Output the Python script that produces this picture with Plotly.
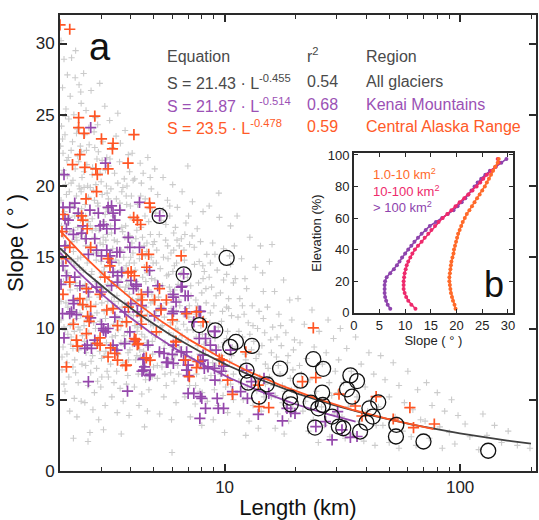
import numpy as np
import plotly.graph_objects as go

# ---------------- data: main panel (a) ----------------
gray_pts = [
    # L 2.0-2.5
    (2.02,30.2),(2.08,28.9),(2.15,27.8),(2.33,29.5),(2.05,26.9),(2.21,26.3),(2.41,27.1),(2.12,25.4),(2.29,25.0),(2.46,25.8),
    (2.03,24.2),(2.10,23.6),(2.18,24.7),(2.26,23.1),(2.37,24.0),(2.44,22.8),(2.06,22.3),(2.14,21.8),(2.23,22.5),(2.32,21.2),
    (2.40,21.7),(2.48,20.6),(2.04,20.9),(2.11,20.1),(2.19,19.6),(2.27,20.4),(2.35,19.3),(2.43,19.8),(2.02,19.0),(2.09,18.2),
    (2.16,17.4),(2.25,18.7),(2.31,17.9),(2.38,17.1),(2.47,18.4),(2.07,16.5),(2.13,15.9),(2.20,16.8),(2.28,15.4),(2.36,16.2),
    (2.45,15.0),(2.03,14.6),(2.10,14.1),(2.17,13.6),(2.24,14.8),(2.33,13.2),(2.42,14.3),(2.49,12.9),(2.05,12.4),(2.12,11.8),
    (2.21,12.7),(2.29,11.3),(2.37,12.0),(2.45,10.9),(2.02,10.6),(2.08,10.1),(2.16,9.6),(2.26,10.4),(2.34,9.2),(2.43,9.9),
    (2.06,8.7),(2.14,8.2),(2.22,8.9),(2.31,7.8),(2.40,8.5),(2.48,7.5),(2.04,7.1),(2.18,6.6),(2.27,7.3),(2.39,6.2),
    (2.10,5.6),(2.30,5.1),(2.46,4.9),(2.20,4.2),(2.36,3.8),(2.28,2.3),(2.63,2.07),(2.24,29.0),(2.45,26.6),(2.07,13.3),
    (2.19,11.0),(2.35,10.7),(2.28,16.9),(2.44,17.6),(2.15,20.7),(2.38,22.1),(2.01,15.3),(2.23,9.4),(2.47,11.6),(2.32,27.6),
    (2.01,22.8),(2.07,21.1),(2.13,19.4),(2.19,17.8),(2.25,16.1),(2.31,14.4),(2.37,12.8),(2.43,11.1),(2.49,9.5),(2.04,8.0),
    (2.10,9.9),(2.16,11.5),(2.22,13.1),(2.28,14.7),(2.34,16.4),(2.40,18.0),(2.46,19.6),(2.03,17.2),(2.09,15.6),(2.15,13.9),
    (2.21,10.2),(2.27,8.6),(2.33,6.9),(2.39,10.1),(2.45,13.7),(2.05,23.3),(2.11,24.9),(2.17,22.0),(2.23,20.2),(2.29,18.5),
    (2.35,23.7),(2.41,20.0),(2.47,22.4),(2.02,11.9),(2.14,7.6),(2.26,12.0),(2.38,14.9),(2.44,16.6),(2.08,6.1),(2.30,9.8),
    # L 2.5-3.2
    (2.52,27.9),(2.71,26.7),(2.95,27.2),(2.58,25.3),(2.83,24.8),(3.10,25.6),(2.55,23.6),(2.66,22.9),(2.79,23.8),(2.91,22.4),
    (3.04,23.1),(3.16,22.0),(2.60,21.5),(2.74,20.8),(2.87,21.9),(2.99,20.3),(3.12,21.1),(2.53,19.9),(2.64,19.2),(2.77,19.7),
    (2.89,18.8),(3.02,19.4),(3.14,18.4),(2.57,17.9),(2.69,17.2),(2.81,18.1),(2.93,16.9),(3.07,17.5),(3.18,16.6),(2.54,16.3),
    (2.67,15.7),(2.80,16.4),(2.92,15.3),(3.05,15.9),(3.17,14.9),(2.61,14.6),(2.73,14.0),(2.85,14.8),(2.97,13.6),(3.09,14.3),
    (2.56,13.1),(2.68,12.6),(2.82,13.3),(2.94,12.2),(3.06,12.8),(3.19,11.9),(2.59,11.5),(2.72,10.9),(2.84,11.7),(2.96,10.5),
    (3.08,11.2),(2.53,10.2),(2.65,9.7),(2.78,10.4),(2.90,9.3),(3.03,9.9),(3.15,9.0),(2.62,8.7),(2.75,8.1),(2.88,8.8),
    (3.00,7.9),(3.13,8.4),(2.57,7.4),(2.70,6.9),(2.86,7.2),(3.01,6.6),(3.17,7.0),(2.63,6.0),(2.80,5.5),(2.98,5.9),
    (2.55,4.8),(2.76,4.3),(3.11,4.6),(2.92,3.6),(2.68,2.7),(3.06,2.9),(2.84,20.1),(2.60,12.0),(3.01,13.9),(2.74,17.7),
    (2.89,24.3),(3.15,20.0),(2.58,8.3),(2.96,16.0),(3.12,10.7),
    (2.51,14.1),(2.57,15.8),(2.63,17.5),(2.69,19.9),(2.75,21.3),(2.81,22.7),(2.87,11.1),(2.93,12.9),(2.99,14.7),(3.05,16.4),
    (3.11,18.0),(3.17,19.5),(2.54,9.1),(2.60,10.6),(2.66,12.2),(2.72,13.8),(2.78,15.3),(2.84,17.0),(2.90,18.6),(2.96,20.9),
    (3.02,21.8),(3.08,8.1),(3.14,9.8),(3.19,13.1),(2.53,21.0),(2.59,22.5),(2.65,24.1),(2.71,7.7),(2.77,9.0),(2.83,10.0),
    (2.89,6.3),(2.95,8.4),(3.01,11.8),(3.07,14.0),(3.13,16.2),(2.56,18.7),(2.62,20.0),(2.68,11.0),(2.74,16.9),(2.80,19.0),
    # L 3.2-4.0
    (3.25,24.6),(3.52,25.1),(3.78,23.9),(3.33,22.7),(3.61,23.0),(3.90,22.2),(3.22,21.4),(3.41,20.9),(3.58,21.7),(3.75,20.5),
    (3.95,21.0),(3.29,19.8),(3.47,19.1),(3.66,19.6),(3.84,18.7),(3.24,18.2),(3.43,17.6),(3.62,18.3),(3.80,17.2),(3.97,17.8),
    (3.31,16.7),(3.50,16.1),(3.69,16.8),(3.87,15.7),(3.27,15.3),(3.45,14.8),(3.64,15.5),(3.82,14.4),(3.99,15.0),(3.36,13.9),
    (3.55,13.4),(3.73,14.1),(3.92,13.0),(3.23,12.7),(3.40,12.2),(3.59,12.9),(3.77,11.8),(3.94,12.4),(3.30,11.3),(3.49,10.8),
    (3.67,11.5),(3.86,10.4),(3.26,10.0),(3.44,9.5),(3.63,10.2),(3.81,9.1),(3.98,9.7),(3.35,8.7),(3.54,8.2),(3.72,8.9),
    (3.91,7.8),(3.28,7.5),(3.48,7.0),(3.68,7.4),(3.88,6.7),(3.39,6.2),(3.60,5.8),(3.83,6.1),(3.32,5.2),(3.71,4.9),
    (3.50,4.1),(3.93,3.9),(3.64,2.6),(3.46,23.5),(3.70,19.9),(3.89,16.3),(3.37,17.9),(3.56,14.6),(3.76,12.6),(3.85,20.0),
    (3.53,9.9),(3.96,8.5),(3.21,6.6),(3.66,13.7),(3.42,11.6),
    (3.21,19.1),(3.28,17.2),(3.35,15.6),(3.42,14.0),(3.49,12.3),(3.56,10.7),(3.63,9.0),(3.70,7.6),(3.77,16.4),(3.84,13.3),
    (3.91,11.0),(3.98,18.6),(3.24,13.6),(3.31,11.9),(3.38,10.3),(3.45,8.6),(3.52,20.2),(3.59,18.8),(3.66,17.1),(3.73,15.0),
    (3.80,12.9),(3.87,9.8),(3.94,14.6),(3.26,21.9),(3.33,9.4),(3.40,16.2),(3.47,13.0),(3.54,11.9),(3.61,14.1),(3.68,10.5),
    (3.75,9.5),(3.82,19.3),(3.89,8.3),(3.96,16.5),
    # L 4-5
    (4.05,22.3),(4.38,21.6),(4.72,22.0),(4.15,20.5),(4.51,20.9),(4.88,19.8),(4.02,19.3),(4.27,18.7),(4.60,19.1),(4.93,18.2),
    (4.11,17.7),(4.42,17.1),(4.76,17.5),(4.20,16.3),(4.55,15.8),(4.84,16.6),(4.08,15.3),(4.35,14.9),(4.67,15.4),(4.97,14.6),
    (4.17,14.1),(4.49,13.6),(4.81,14.0),(4.03,13.1),(4.31,12.7),(4.63,13.3),(4.91,12.4),(4.22,11.9),(4.54,11.4),(4.86,11.8),
    (4.10,10.9),(4.40,10.5),(4.70,11.0),(4.98,10.2),(4.25,9.8),(4.58,9.4),(4.89,9.7),(4.06,8.9),(4.36,8.5),(4.66,9.0),
    (4.95,8.2),(4.19,7.8),(4.52,7.4),(4.80,7.7),(4.30,6.8),(4.62,6.4),(4.92,6.6),(4.14,5.9),(4.45,5.4),(4.77,5.7),
    (4.33,4.6),(4.70,4.2),(4.57,3.1),(4.24,16.9),(4.83,20.6),(4.46,12.2),(4.68,16.0),(4.01,11.6),(4.90,13.5),(4.39,8.0),
    (4.12,23.6),(4.75,10.6),(4.28,10.1),(4.59,17.9),(4.96,15.9),
    (4.04,16.0),(4.13,14.6),(4.21,13.3),(4.29,12.1),(4.37,10.9),(4.45,9.6),(4.53,8.4),(4.61,15.1),(4.69,13.9),(4.77,12.7),
    (4.85,10.3),(4.93,9.1),(4.07,12.0),(4.16,10.2),(4.24,8.1),(4.32,17.6),(4.40,19.3),(4.48,16.4),(4.56,14.3),(4.64,11.5),
    (4.72,8.7),(4.80,18.4),(4.88,15.0),(4.96,11.9),(4.09,20.4),(4.43,20.2),(4.66,6.9),(4.99,7.3),
    # L 5-6.5
    (5.05,21.2),(5.48,20.6),(6.02,20.1),(5.20,19.4),(5.72,19.0),(6.30,18.5),(5.10,18.1),(5.38,17.6),(5.85,17.9),(6.18,17.1),
    (5.28,16.6),(5.62,16.2),(6.08,16.7),(6.42,15.8),(5.15,15.5),(5.50,15.0),(5.92,15.3),(6.25,14.6),(5.33,14.2),(5.78,13.8),
    (6.12,14.4),(5.06,13.4),(5.45,13.0),(5.88,12.6),(6.35,13.1),(5.24,12.2),(5.66,11.8),(6.05,12.3),(6.45,11.6),(5.12,11.2),
    (5.55,10.8),(5.98,11.1),(6.28,10.5),(5.35,10.1),(5.80,9.7),(6.20,10.0),(5.08,9.4),(5.58,9.0),(6.00,8.7),(6.38,9.2),
    (5.25,8.3),(5.70,7.9),(6.15,8.1),(5.42,7.3),(5.90,6.9),(6.32,7.4),(5.18,6.5),(5.65,6.0),(6.10,6.3),(5.52,5.2),
    (6.22,4.8),(5.30,4.0),(5.95,3.6),(5.98,1.3),(5.75,14.9),(6.40,12.0),(5.40,11.5),(5.85,18.6),(6.05,9.5),(5.22,10.6),
    (5.03,16.1),(5.13,14.6),(5.23,13.1),(5.33,11.6),(5.43,10.2),(5.53,8.6),(5.63,17.3),(5.73,15.8),(5.83,12.9),(5.93,11.4),
    (6.03,14.0),(6.13,12.7),(6.23,11.2),(6.33,9.9),(6.43,8.7),(5.08,12.0),(5.28,9.7),(5.48,18.3),(5.68,13.7),(5.88,10.4),
    (6.08,15.5),(6.28,16.2),(6.48,13.8),(5.18,7.4),(5.58,6.8),(5.98,7.8),(6.38,6.8),
    # L 6.5-8.5
    (6.60,19.6),(7.30,18.9),(8.10,18.2),(6.85,17.4),(7.65,17.0),(6.55,16.3),(7.10,15.9),(7.90,16.1),(8.40,15.2),(6.75,14.8),
    (7.45,14.5),(8.20,14.0),(6.95,13.6),(7.75,13.2),(6.62,12.7),(7.20,12.3),(8.00,12.5),(8.35,11.8),(6.88,11.4),(7.55,11.0),
    (8.15,10.7),(6.70,10.3),(7.35,9.9),(8.05,9.6),(7.00,9.2),(7.70,8.8),(8.30,8.5),(6.65,8.3),(7.25,7.9),(7.95,7.6),
    (6.90,7.1),(7.60,6.8),(8.25,6.5),(7.10,6.0),(7.85,5.6),(6.78,5.2),(7.50,4.7),(8.45,4.9),(7.15,3.8),(8.00,3.2),
    (6.72,15.5),(7.80,14.7),(7.05,10.8),(8.40,9.0),(7.55,12.0),(6.98,21.4),(8.10,13.5),(7.28,16.5),(6.60,9.5),
    (6.58,13.9),(6.83,12.3),(7.08,11.6),(7.33,10.6),(7.58,9.4),(7.83,8.2),(8.08,14.4),(8.33,12.8),(6.68,11.0),(6.93,9.9),
    (7.18,13.0),(7.43,15.7),(7.68,11.6),(7.93,10.2),(8.18,8.9),(8.43,7.2),(6.78,16.6),(7.03,17.9),(7.53,6.0),(8.03,5.5),
    # L 8.5-11
    (8.60,18.6),(9.50,17.8),(10.6,17.2),(8.90,16.0),(9.90,15.6),(8.70,14.6),(9.30,14.1),(10.2,13.8),(10.9,13.2),(8.80,12.9),
    (9.60,12.5),(10.4,12.1),(9.00,11.6),(9.80,11.2),(10.7,10.9),(8.65,10.4),(9.40,10.1),(10.3,9.8),(9.10,9.3),(9.95,9.0),
    (10.8,8.7),(8.85,8.4),(9.70,8.1),(10.5,7.7),(9.20,7.4),(10.1,7.0),(8.75,6.7),(9.55,6.3),(10.6,6.1),(9.05,5.7),
    (9.85,5.3),(10.9,5.0),(9.35,4.6),(10.3,4.1),(8.95,3.6),(10.0,2.7),(9.45,19.5),(10.5,15.1),(8.55,9.6),(10.2,11.5),
    (8.7,11.1),(9.2,12.3),(9.7,10.5),(10.2,9.3),(10.7,8.1),(8.9,7.6),(9.4,8.7),(9.9,13.4),(10.4,11.4),(10.9,6.8),
    (8.6,13.6),(9.1,15.2),(9.6,6.8),(10.1,5.9),(10.6,14.5),
    # L 11-15
    (11.3,17.9),(12.8,16.4),(14.2,15.8),(11.8,14.9),(13.5,14.3),(11.1,13.5),(12.4,12.8),(14.6,12.6),(11.6,12.1),(13.1,11.6),
    (14.0,11.2),(11.4,10.8),(12.6,10.4),(13.8,10.0),(14.8,9.7),(11.9,9.4),(13.3,9.1),(14.4,8.8),(11.2,8.6),(12.2,8.2),
    (13.6,7.9),(14.9,7.5),(11.7,7.3),(12.9,6.9),(14.1,6.6),(11.5,6.3),(12.5,5.9),(13.7,5.6),(14.7,5.2),(12.0,5.0),
    (13.2,4.6),(14.3,4.2),(11.6,4.0),(12.7,3.5),(13.9,3.0),(12.3,2.5),(14.5,13.9),(11.0,15.8),(13.0,8.5),(12.1,11.0),
    (11.5,9.8),(12.3,7.8),(13.2,10.2),(14.0,8.2),(14.9,6.1),(11.9,11.6),(12.8,9.6),(13.6,6.3),(14.6,10.7),(12.2,13.5),
    # L 15-20
    (15.5,14.7),(17.8,13.4),(16.3,12.6),(18.9,12.0),(15.2,11.5),(17.0,11.0),(19.3,10.6),(16.0,10.1),(18.2,9.7),(15.7,9.2),
    (17.4,8.8),(19.6,8.5),(16.6,8.0),(18.5,7.6),(15.3,7.2),(17.2,6.8),(19.0,6.5),(16.1,6.0),(18.0,5.6),(15.8,5.2),
    (17.6,4.8),(19.5,4.4),(16.8,4.0),(18.7,3.5),(16.4,3.0),(17.9,2.6),(15.9,15.9),(19.8,9.2),(16.9,7.4),(18.3,5.1),
    (15.8,8.3),(16.7,9.4),(17.6,6.0),(18.6,8.1),(19.5,7.1),(15.5,6.6),(16.4,5.3),(17.3,10.2),(18.2,4.6),(19.2,5.7),
    # L 20-30
    (20.5,12.1),(23.5,11.3),(27.5,10.6),(21.8,10.3),(25.2,9.8),(29.0,9.3),(20.9,9.0),(24.0,8.7),(27.0,8.3),(22.3,7.9),
    (26.0,7.5),(29.5,7.0),(21.2,6.8),(23.0,6.4),(27.8,6.2),(20.3,5.9),(24.5,5.6),(28.5,5.3),(22.0,4.9),(25.8,4.5),
    (21.5,4.2),(29.2,4.0),(23.8,3.6),(26.5,3.2),(22.7,2.8),(28.0,2.4),(25.0,2.0),(20.8,7.4),
    # L 30-45
    (31.0,10.0),(36.0,9.4),(33.0,8.6),(41.0,8.3),(30.5,7.8),(38.0,7.5),(34.5,7.0),(43.0,6.8),(32.0,6.2),(39.5,5.9),
    (30.2,5.5),(36.5,5.2),(42.0,5.0),(33.5,4.5),(40.5,4.2),(31.5,3.8),(37.5,3.5),(44.0,3.2),(35.0,2.6),(39.0,2.1),
    (32.5,2.3),(43.5,1.8),
    # L 45-70
    (46,8.1),(52,7.6),(60,7.0),(48,6.4),(55,6.0),(66,5.7),(50,5.2),(58,4.8),(45,4.5),(63,4.3),
    (53,3.8),(68,3.6),(47,3.2),(57,2.8),(62,2.4),(50,2.0),(65,1.8),(55,1.6),
    # L 70-120
    (72,6.2),(80,5.5),(92,5.0),(76,4.6),(86,4.2),(98,3.9),(71,3.5),(82,3.1),(105,3.3),(90,2.7),
    (74,2.3),(110,2.4),(95,1.9),(84,1.6),
    # L 120-210
    (125,4.0),(140,3.2),(130,2.5),(160,2.8),(150,2.0),(198,1.6),(175,1.8),(120,1.5),
]
gray_L = [p[0] for p in gray_pts]
gray_S = [p[1] for p in gray_pts]

central_pts = [
    (2.0,31.3),(2.2,31.0),(2.40,24.8),(2.81,24.9),(2.4,24.1),(2.53,23.7),(3.0,23.3),(3.36,23.0),(3.34,22.6),(2.43,22.2),
    (2.26,21.5),(2.55,21.3),(2.84,21.2),(2.88,20.8),(3.20,21.2),(2.86,19.6),(2.58,19.1),(4.12,23.6),(3.89,21.6),(4.8,18.8),
    (4.83,18.5),(4.11,17.8),(4.26,17.6),(4.4,17.3),(6.54,15.1),(4.76,15.2),(4.46,15.2),(3.89,13.9),(4.01,14.0),(4.14,13.7),
    (3.26,14.4),(4.67,14.3),(5.29,12.8),(4.43,12.4),(4.47,12.0),(5.04,12.0),(5.66,12.0),(2.70,11.55),(3.36,11.4),(4.43,10.9),
    (3.83,10.46),(2.28,10.3),(2.35,9.18),(2.37,8.76),(2.13,7.31),(2.59,9.64),(2.96,8.83),(3.28,8.64),(3.2,8.0),(3.42,8.25),
    (3.51,7.78),(3.83,7.43),(3.51,10.2),(4.2,9.22),(4.31,8.94),(4.83,7.78),(3.9,11.5),(4.43,10.3),(5.13,9.76),(6.22,9.06),
    (6.82,7.78),(7.08,6.62),(7.6,7.25),(10.3,6.38),(10.8,5.38),(6.9,11.04),(7.6,11.16),(8.1,10.46),(23.8,10.04),(12.3,8.36),
    (7.7,7.7),(9.75,7.78),(9.5,7.85),(13.9,6.03),(14.0,4.52),(15.4,4.45),(21.4,6.27),(24.4,6.55),(30.6,5.4),(35.9,4.56),
    (38.3,3.86),(44.0,5.22),(52.0,3.65),(61.2,4.45),(63.4,3.05),(77.7,3.3),(2.06,18.0),(2.04,16.8),(2.47,17.9),(2.5,17.6),
    (2.61,17.0),(2.7,15.7),(2.2,15.7),(3.2,14.9),(3.1,13.6),(2.59,12.8),(2.96,12.4),(2.12,14.9),(2.06,12.4),(2.2,13.26),
    (2.43,12.1),(2.5,11.67),(2.62,10.85),(2.66,10.5),(3.16,11.3),(2.96,9.34),(2.88,8.95),(3.8,7.39),(4.14,9.3),(4.26,8.87),
    (4.65,7.94),(5.37,11.3),(6.01,10.6),(6.2,9.1),
]
central_L = [p[0] for p in central_pts]
central_S = [p[1] for p in central_pts]

kenai_pts = [
    (2.7,24.1),(3.12,21.6),(2.08,20.8),(2.06,18.5),(2.2,18.5),(2.31,18.8),(2.39,18.1),(2.68,18.3),(2.91,18.1),(3.2,18.5),
    (3.36,18.1),(2.17,17.6),(2.28,16.6),(2.47,16.7),(2.58,16.3),(2.81,16.3),(2.96,17.2),(3.16,17.0),(3.42,17.6),(2.1,15.8),
    (2.64,15.2),(2.86,15.5),(3.0,15.1),(3.16,15.5),(3.31,14.65),(3.49,15.35),(2.06,14.4),(2.13,13.7),(2.31,13.6),(2.43,13.0),
    (2.64,12.56),(2.86,12.9),(3.0,12.56),(3.51,13.7),(2.02,13.1),(2.29,11.74),(2.24,11.16),(2.35,10.97),(2.08,9.34),(2.55,8.6),
    (2.61,8.83),(2.72,8.6),(3.06,10.0),(3.13,9.76),(3.2,10.0),(2.64,6.27),(3.87,5.61),(3.42,10.8),(3.77,8.94),(4.5,7.83),
    (4.52,7.08),(4.8,6.69),(5.53,8.25),(5.66,7.62),(6.0,8.18),(6.54,8.36),(6.54,12.9),(6.05,12.4),(6.0,11.04),(6.8,12.3),
    (7.0,5.45),(7.4,5.45),(3.51,13.26),(4.1,12.8),(4.22,13.1),(4.72,12.56),(4.0,11.74),(3.77,11.16),(4.26,11.16),(3.36,8.83),
    (3.49,8.48),(4.54,7.9),(4.57,7.31),(4.46,7.0),(4.83,6.78),(4.73,8.83),(5.29,8.36),(5.74,7.62),(6.06,7.55),(6.06,8.83),
    (6.9,8.36),(6.9,7.08),(7.0,6.69),(7.9,5.22),(8.3,4.4),(7.85,3.7),(9.3,5.1),(9.4,4.4),(9.9,4.4),(8.1,7.78),
    (8.5,7.31),(9.1,6.38),(9.9,7.36),(2.28,11.97),(3.0,10.3),(3.06,9.87),(2.7,10.74),(2.81,9.18),(2.05,11.04),(2.2,11.04),
    (3.96,9.76),(4.14,9.1),(6.22,11.86),(5.37,11.4),(7.8,9.3),(8.3,9.3),(8.7,8.83),(9.2,8.48),(9.06,9.8),(10.6,8.48),
    (12.4,7.08),(8.1,8.13),(8.0,5.1),(10.8,5.57),(12.5,5.1),(13.9,3.98),(11.7,5.57),(15.4,5.45),(17.6,3.52),(18.4,4.4),
    (19.1,4.17),(19.9,4.05),(24.4,3.12),(28.6,2.19),(34.2,2.36),(36.5,2.42),(26.8,3.47),(31.5,2.89),(30.2,4.17),(13.0,6.27),
    (14.7,6.5),(6.7,13.84),(6.6,12.95),(7.0,12.3),(7.9,11.2),(7.4,10.46),(9.1,9.8),(6.7,7.78),(7.0,7.43),(7.9,7.7),
    (9.06,7.2),(8.2,7.2),(9.7,7.0),(4.35,18.85),(3.59,18.3),(3.31,18.6),(2.1,17.7),(2.13,17.0),(2.5,17.2),(3.06,17.3),
    (3.42,17.0),(3.9,16.4),(3.96,15.7),(3.26,15.1),(3.59,15.35),(3.36,13.96),(3.66,13.96),(4.0,13.37),(3.31,13.0),(4.22,12.97),
    (5.2,13.0),(6.06,12.2),(6.06,11.2),(6.8,11.16),(7.8,11.2),(5.3,17.9),(4.35,15.7),(4.8,14.07),(4.43,11.6),(5.04,10.88),
]
kenai_L = [p[0] for p in kenai_pts]
kenai_S = [p[1] for p in kenai_pts]

circle_L = [5.3, 10.2, 6.7, 7.81, 9.13, 10.57, 11.17, 13.05, 12.4, 17.2, 23.8, 26.2, 34.2, 12.6, 15.1, 14.0,
            18.95, 19.1, 21.0, 23.2, 25.0, 25.96, 26.1, 24.2, 28.6, 30.55, 31.9, 36.5, 33.1, 34.8, 37.6, 40.0,
            41.2, 42.6, 44.9, 53.6, 53.4, 69.9, 131.6]
circle_S = [17.9, 14.95, 13.8, 10.24, 9.87, 8.71, 9.06, 8.78, 7.05, 7.18, 7.85, 7.17, 6.71, 6.2, 6.08, 5.22,
            5.15, 4.68, 6.34, 4.8, 4.4, 5.5, 4.63, 3.05, 3.82, 3.12, 3.0, 6.31, 5.73, 5.22, 2.77, 3.4,
            4.4, 3.82, 4.82, 3.24, 2.42, 2.07, 1.42]

# power-law fits  S = a * L^b  (from the printed equations)
fit_names = ["All glaciers", "Kenai Mountains", "Central Alaska Range"]
fit_a = [21.43, 21.87, 23.5]
fit_b = [-0.455, -0.514, -0.478]
fit_r2 = ["0.54", "0.68", "0.59"]
fit_Lmax = [200, 36, 77]

# ---------------- data: inset (b) ----------------
elev = [2.5, 5, 7.5, 10, 12.5, 15, 17.5, 20, 22.5, 25, 27.5, 30, 32.5, 35, 37.5, 40, 42.5, 45, 47.5, 50,
        52.5, 55, 57.5, 60, 62.5, 65, 67.5, 70, 72.5, 75, 77.5, 80, 82.5, 85, 87.5, 90, 92.5, 95, 97.5]
slope_small = [19.8, 19.6, 19.3, 19.1, 18.9, 18.8, 18.7, 18.6, 18.6, 18.7, 18.8, 18.9, 19.0, 19.2, 19.4, 19.5,
               19.7, 19.9, 20.1, 20.3, 20.6, 20.9, 21.2, 21.6, 22.0, 22.5, 23.0, 23.5, 24.0, 24.5, 25.0, 25.5,
               25.9, 26.3, 26.7, 27.1, 27.5, 28.0, 28.2]
slope_mid = [12.0, 11.2, 10.6, 10.2, 9.9, 9.7, 9.7, 9.7, 9.8, 9.9, 10.1, 10.3, 10.6, 11.0, 11.4, 11.9,
             12.5, 13.2, 13.8, 14.5, 15.1, 15.8, 16.5, 17.3, 18.2, 19.0, 19.8, 20.6, 21.5, 22.3, 23.1, 23.9,
             24.6, 25.2, 25.9, 26.8, 27.6, 28.2, 28.0]
slope_large = [7.1, 6.6, 6.3, 6.1, 6.0, 6.0, 6.0, 6.1, 6.4, 7.1, 7.8, 8.4, 8.9, 9.4, 10.0, 10.6,
               11.2, 11.8, 12.5, 13.2, 14.0, 14.8, 16.0, 17.2, 18.3, 19.4, 20.2, 21.0, 21.7, 22.3, 22.9, 23.5,
               24.1, 24.8, 25.6, 26.5, 27.6, 28.7, 29.7]
size_labels = ["1.0-10 km<sup>2</sup>", "10-100 km<sup>2</sup>", "> 100 km<sup>2</sup>"]

# ---------------- styling ----------------
FONT = "Arial, 'Liberation Sans', Helvetica, sans-serif"
C_GRAY_PT = "#cbcbcb"
C_ALL = "#404040"
C_KENAI = "#9447ab"
C_CENTRAL = "#ff5524"
C_TXT_GRAY = "#4a4a4a"
C_TXT_KENAI = "#9b51b5"
C_TXT_CENTRAL = "#ff5a28"
C_IN = ["#ff6a2a", "#ee2a6c", "#8e44ad"]

W, H = 539, 520
ML, MR, MT, MB = 60, 1, 15, 47
PW, PH = W - ML - MR, H - MT - MB


def px(x):
    return (x - ML) / PW


def py(y):
    return (H - MB - y) / PH


fig = go.Figure()

fig.add_trace(go.Scatter(x=gray_L, y=gray_S, mode="markers", xaxis="x", yaxis="y",
                         marker=dict(symbol="cross-thin", size=4.5, color=C_GRAY_PT,
                                     line=dict(width=1.1, color=C_GRAY_PT)),
                         showlegend=False, hoverinfo="skip"))
fig.add_trace(go.Scatter(x=kenai_L, y=kenai_S, mode="markers",
                         marker=dict(symbol="cross-thin", size=8, color=C_KENAI,
                                     line=dict(width=1.7, color=C_KENAI)),
                         showlegend=False))
fig.add_trace(go.Scatter(x=central_L, y=central_S, mode="markers",
                         marker=dict(symbol="cross-thin", size=8, color=C_CENTRAL,
                                     line=dict(width=1.7, color=C_CENTRAL)),
                         showlegend=False))

fit_colors = [C_ALL, C_KENAI, C_CENTRAL]
for a, b, lmax, c in zip(fit_a, fit_b, fit_Lmax, fit_colors):
    Lc = np.logspace(np.log10(2), np.log10(lmax), 120)
    fig.add_trace(go.Scatter(x=Lc, y=a * Lc ** b, mode="lines",
                             line=dict(color=c, width=1.8), showlegend=False, hoverinfo="skip"))

fig.add_trace(go.Scatter(x=circle_L, y=circle_S, mode="markers",
                         marker=dict(symbol="circle-open", size=15, color="#111",
                                     line=dict(width=1.3, color="#111")),
                         showlegend=False))

# inset traces
for ys, c in zip([slope_large, slope_mid, slope_small], [C_IN[2], C_IN[1], C_IN[0]]):
    fig.add_trace(go.Scatter(x=ys, y=elev, mode="lines+markers", xaxis="x2", yaxis="y2",
                             line=dict(color=c, width=1.6),
                             marker=dict(size=4, color=c), showlegend=False))

axis_common = dict(showline=True, linecolor="#2a2a2a", mirror="ticks", ticks="inside",
                   tickcolor="#2a2a2a", showgrid=False, zeroline=False)

fig.update_layout(
    width=W, height=H,
    margin=dict(l=ML, r=MR, t=MT, b=MB),
    paper_bgcolor="white", plot_bgcolor="white",
    font=dict(family=FONT, color="#222"),
    xaxis=dict(type="log", range=[np.log10(2), np.log10(210)], domain=[0, 1],
               tickmode="array", tickvals=[10, 100], ticktext=["10", "100"],
               ticklen=7, tickwidth=1.5, linewidth=2,
               tickfont=dict(size=17, color="#222"),
               minor=dict(tickmode="array",
                          tickvals=[2, 3, 4, 5, 6, 7, 8, 9, 20, 30, 40, 50, 60, 70, 80, 90, 200],
                          ticks="inside", ticklen=4, tickwidth=1.2, tickcolor="#2a2a2a", showgrid=False),
               title=dict(text="Length (km)", font=dict(size=22, color="#111"), standoff=6),
               **axis_common),
    yaxis=dict(range=[0, 32], domain=[0, 1], tickmode="array", tickvals=[0, 5, 10, 15, 20, 25, 30],
               ticklen=7, tickwidth=1.5, linewidth=2,
               tickfont=dict(size=17, color="#222"),
               title=dict(text="Slope ( ° )", font=dict(size=22, color="#111"), standoff=6),
               **axis_common),
    xaxis2=dict(anchor="y2", domain=[px(355), px(515)], range=[0, 31],
                tickmode="array", tickvals=[0, 5, 10, 15, 20, 25, 30],
                ticklen=4, tickwidth=1, linewidth=1.5,
                tickfont=dict(size=13, color="#222"),
                title=dict(text="Slope ( ° )", font=dict(size=13, color="#222"), standoff=2),
                **axis_common),
    yaxis2=dict(anchor="x2", domain=[py(314), py(154)], range=[0, 101],
                tickmode="array", tickvals=[0, 20, 40, 60, 80, 100],
                ticklen=4, tickwidth=1, linewidth=1.5,
                tickfont=dict(size=13, color="#222"),
                title=dict(text="Elevation (%)", font=dict(size=13, color="#222"), standoff=3),
                **axis_common),
)

# white background of the inset (drawn in the inset subplot, above the main traces)
fig.add_shape(type="rect", xref="x2 domain", yref="y2 domain", x0=0, x1=1, y0=0, y1=1,
              fillcolor="white", line=dict(width=0), layer="below")

ann = []


def text(x, y, s, size, color, anchor="left"):
    ann.append(dict(x=px(x), y=py(y), xref="paper", yref="paper", text=s, showarrow=False,
                    xanchor=anchor, yanchor="middle", font=dict(size=size, color=color, family=FONT)))


text(87, 47, "a", 38, "#111")
text(484, 286, "b", 36, "#111")

# table header
text(165, 57, "Equation", 16, C_TXT_GRAY)
text(306, 55, "r<sup>2</sup>", 16, C_TXT_GRAY)
text(365, 57, "Region", 16, C_TXT_GRAY)
row_y = [82, 105, 127]
row_c = [C_TXT_GRAY, C_TXT_KENAI, C_TXT_CENTRAL]
for name, a, b, r2, yy, c in zip(fit_names, fit_a, fit_b, fit_r2, row_y, row_c):
    text(165, yy, f"S = {a:g} · L<sup>{b:g}</sup>", 16, c)
    text(306, yy, r2, 16, c)
    text(365, yy, name, 16, c)

# inset legend
for lab, yy, c in zip(size_labels, [175, 192, 208], C_IN):
    text(372, yy, lab, 13, c)

fig.update_layout(annotations=ann)

fig.write_html("out.html")
